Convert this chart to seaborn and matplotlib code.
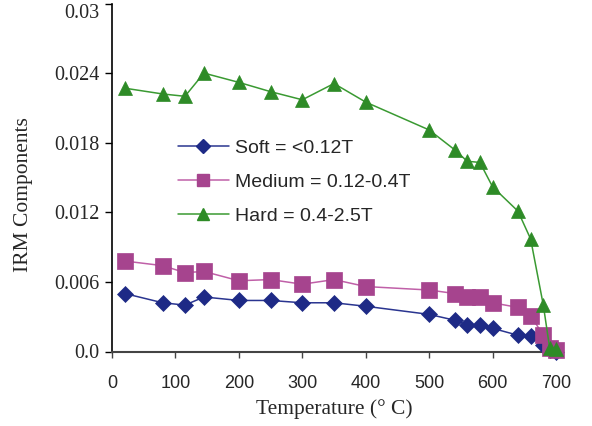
import matplotlib
matplotlib.use("Agg")
import matplotlib.pyplot as plt
import seaborn as sns
import pandas as pd
from matplotlib.lines import Line2D

temperature = [20, 80, 115, 145, 200, 250, 300, 350, 400, 500, 540, 560, 580, 600, 640, 660, 680, 690, 700]
soft = [0.0050, 0.0042, 0.0040, 0.0047, 0.0044, 0.0044, 0.0042, 0.0042, 0.0039, 0.0032, 0.0027, 0.0023, 0.0023, 0.0020,
        0.0014, 0.0013, 0.0006, 0.0001, 0.0000]
medium = [0.0078, 0.0074, 0.0068, 0.0069, 0.0061, 0.0062, 0.0058, 0.0062, 0.0056, 0.0053, 0.0050, 0.0047, 0.0047, 0.0042,
          0.0038, 0.0031, 0.0014, 0.0003, 0.0001]
hard = [0.0227, 0.0222, 0.0220, 0.0240, 0.0232, 0.0224, 0.0217, 0.0231, 0.0215, 0.0191, 0.0174, 0.0164, 0.0163, 0.0142,
        0.0121, 0.0097, 0.0040, 0.0003, 0.0002]
series_labels = ["Soft = <0.12T", "Medium = 0.12-0.4T", "Hard = 0.4-2.5T"]
y_ticks = [0.0, 0.006, 0.012, 0.018, 0.024, 0.03]
y_tick_labels = ["0.0", "0.006", "0.012", "0.018", "0.024", "0.03"]
x_ticks = [0, 100, 200, 300, 400, 500, 600, 700]

colors = ["#1E2A86", "#A6448E", "#2E8B27"]
line_colors = ["#2A3590", "#C060A8", "#3A9A32"]
markers = ["D", "s", "^"]
msizes = [8.5, 11.0, 10.5]

sns.set_theme(style="white")
plt.rcParams["font.family"] = ["Liberation Sans", "DejaVu Sans"]

fig = plt.figure(figsize=(5.92, 4.26), dpi=100)
ax = fig.add_axes([112 / 592, (426 - 351.5) / 426, (556 - 112) / 592, (351.5 - 3.5) / 426])

df = pd.DataFrame({"Temperature": temperature, "Soft": soft, "Medium": medium, "Hard": hard})
handles = []
for col, lab, c, lc, m, ms in zip(["Soft", "Medium", "Hard"], series_labels, colors, line_colors, markers, msizes):
    sns.lineplot(data=df, x="Temperature", y=col, ax=ax, color=lc, linewidth=1.1,
                 marker=m, markersize=ms, markerfacecolor=c, markeredgecolor=c,
                 markeredgewidth=0.5, clip_on=False, zorder=3)
    handles.append(Line2D([], [], color=lc, linewidth=1.1, marker=m, markersize=ms * 0.8,
                          markerfacecolor=c, markeredgecolor=c, label=lab))

ax.set_xlim(0, 700)
ax.set_ylim(0, 0.03)
ax.set_xticks(x_ticks)
ax.set_xticklabels([str(v) for v in x_ticks], fontsize=13, family="Liberation Sans")
ax.set_yticks(y_ticks)
ax.set_yticklabels(y_tick_labels, fontsize=14.5, family="Liberation Serif")
ax.get_yticklabels()[-1].set_va("top")

for s in ["top", "right"]:
    ax.spines[s].set_visible(False)
ax.spines["left"].set_color("black")
ax.spines["bottom"].set_color("#444444")
ax.spines["left"].set_linewidth(1.2)
ax.spines["bottom"].set_linewidth(1.5)
ax.tick_params(axis="y", direction="out", length=5, width=1, color="black", pad=4, left=True)
ax.tick_params(axis="x", direction="out", length=4, width=1, color="#444444", pad=13, bottom=True)

ax.set_xlabel("Temperature (\u00b0 C)", fontsize=15.5, family="Liberation Serif", labelpad=5)
ax.set_ylabel("IRM Components", fontsize=15.5, family="Liberation Serif")
ax.yaxis.set_label_coords(-0.178, 0.45)

leg = ax.legend(handles=handles, loc="center left", bbox_to_anchor=(178 / 592, (426 - 182) / 426),
                bbox_transform=fig.transFigure, frameon=False, fontsize=14, borderpad=0,
                borderaxespad=0, handlelength=2.6, handletextpad=0.35, labelspacing=0.85)

fig.savefig("out.png", dpi=100)
